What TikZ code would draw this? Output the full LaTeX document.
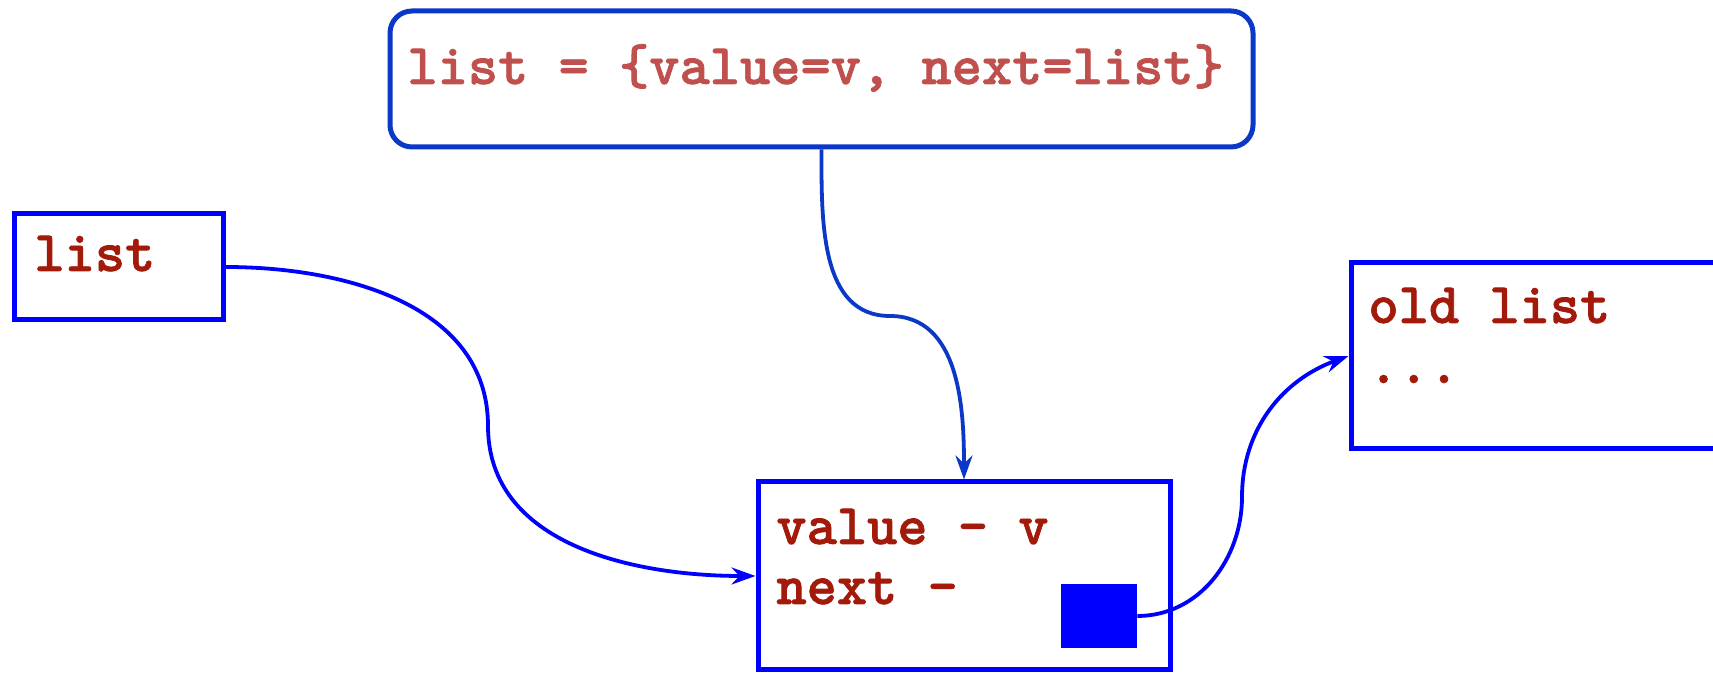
\documentclass[tikz,border=0pt]{standalone}
\usepackage{fontspec}
\newfontfamily\codefont{lmmonolt10-bold.otf}[FakeBold=1.2]
\usetikzlibrary{arrows.meta}
\definecolor{boxblue}{RGB}{0,0,255}
\definecolor{darkblue}{RGB}{12,56,200}
\definecolor{txtred}{RGB}{163,26,10}
\definecolor{lightred}{RGB}{192,80,77}
\begin{document}
\begin{tikzpicture}[x=0.5pt,y=0.5pt,
  box/.style={draw=boxblue,line width=2.5pt,inner sep=0pt,fill=white},
  lbl/.style={inner sep=0pt,anchor=base west,text=txtred,font=\fontsize{28.8}{34}\selectfont\codefont},
  conn/.style={line width=1.9pt,draw=boxblue,-{Stealth[length=12pt,width=8.5pt,inset=4pt]}},
]
\fill[white] (0,0) rectangle (1713,673);
\useasboundingbox (0,0) rectangle (1713,673);
\clip (0,0) rectangle (1713,673);
% boxes
\node[box,draw=darkblue,rounded corners=11pt,minimum width=431.5pt,minimum height=68pt] (top) at (821.5,594) {};
\node[box,minimum width=104.5pt,minimum height=53pt] (lst) at (118.5,406) {};
\node[box,minimum width=206pt,minimum height=94pt] (cell) at (964,97) {};
\node[box,minimum width=224.5pt,minimum height=93pt] (old) at (1575.5,317) {};
\node[fill=boxblue,inner sep=0pt,minimum width=38pt,minimum height=32pt] (sq) at (1099,57) {};
% texts
\node[lbl,text=lightred] (toptxt) at (407,589) {list = \{value=v, next=list\}};
\node[lbl] (lsttxt) at (34,402) {list};
\node[lbl] (valtxt) at (776,129) {value - v};
\node[lbl] (nexttxt) at (776,69) {next -};
\node[lbl] (oldtxt) at (1368,350) {old list};
\node[lbl] (dots) at (1368,290) {...};
% waypoints
\coordinate (m1) at (488,247);
\coordinate (m2) at (890,357);
\coordinate (m3) at (1242,176);
% connectors
\draw[conn] (lst.east) to[out=0,in=90] (m1) to[out=-90,in=180] (cell.west);
\draw[conn,draw=darkblue] (top.south) to[out=-90,in=180] (m2) to[out=0,in=90] (cell.north);
\draw[conn] (sq.east) to[out=0,in=-90] (m3) to[out=90,in=200] (old.west);
\end{tikzpicture}
\end{document}
